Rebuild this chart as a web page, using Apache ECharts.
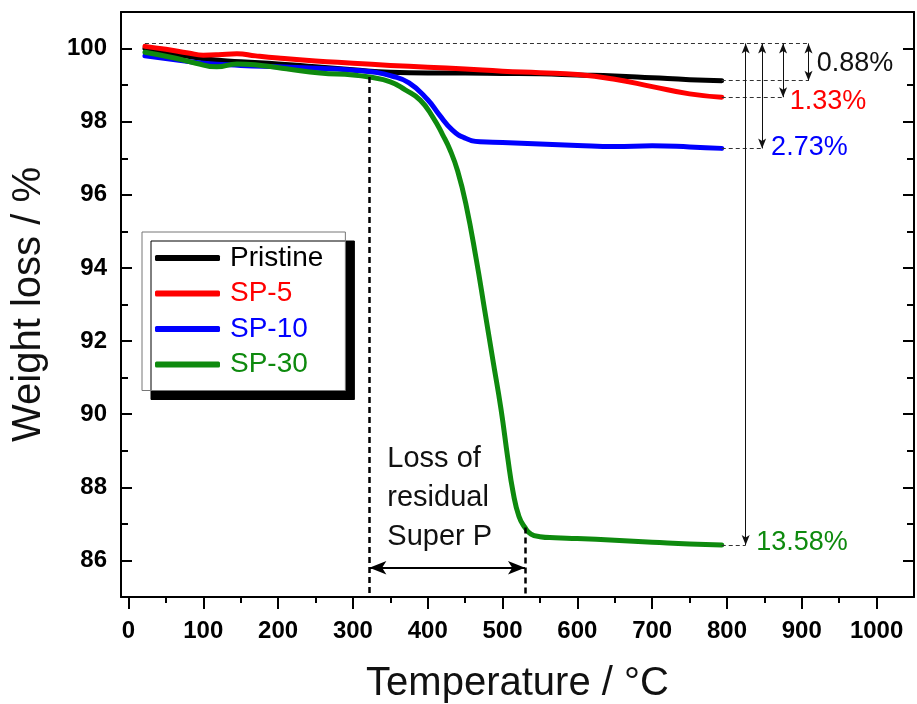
<!DOCTYPE html>
<html>
<head>
<meta charset="utf-8">
<script src="https://cdn.jsdelivr.net/npm/echarts@6/dist/echarts.min.js"></script>
<style>
  html, body { margin: 0; padding: 0; background: #fff; }
  #chart { width: 917px; height: 704px; }
</style>
</head>
<body>
<div id="chart"></div>
<script>
// TGA data (temperature in °C, weight in %)
var pristineT = [22, 60, 100, 150, 200, 250, 300, 350, 400, 450, 500, 550, 600, 650, 700, 750, 793];
var pristineW = [100.0, 99.86, 99.72, 99.64, 99.58, 99.5, 99.42, 99.35, 99.33, 99.33, 99.32, 99.31, 99.28, 99.25, 99.2, 99.15, 99.12];

var sp5T = [22, 50, 80, 100, 120, 145, 170, 200, 250, 300, 350, 400, 450, 500, 550, 600, 650, 700, 750, 793];
var sp5W = [100.06, 99.98, 99.88, 99.82, 99.83, 99.86, 99.8, 99.74, 99.66, 99.6, 99.54, 99.49, 99.44, 99.38, 99.34, 99.29, 99.16, 98.96, 98.76, 98.67];

var sp10T = [22, 60, 100, 150, 200, 250, 300, 330, 350, 375, 400, 415, 433, 450, 470, 500, 550, 600, 650, 700, 750, 793];
var sp10W = [99.8, 99.7, 99.6, 99.54, 99.5, 99.46, 99.41, 99.35, 99.26, 99.06, 98.6, 98.2, 97.77, 97.55, 97.45, 97.43, 97.39, 97.35, 97.32, 97.34, 97.31, 97.27];

var sp30T = [22, 60, 90, 118, 145, 180, 211, 256, 300, 322, 350, 370, 390, 407, 420, 430, 440, 451, 465, 476, 487, 498, 507, 514, 522, 530, 538, 550, 570, 600, 650, 700, 750, 793];
var sp30W = [99.9, 99.75, 99.6, 99.5, 99.58, 99.53, 99.45, 99.33, 99.28, 99.22, 99.09, 98.87, 98.59, 98.12, 97.64, 97.22, 96.65, 95.75, 94.22, 92.86, 91.49, 90.13, 88.8, 87.88, 87.2, 86.9, 86.72, 86.65, 86.62, 86.6, 86.55, 86.5, 86.45, 86.42];

var seriesNames = ['Pristine', 'SP-5', 'SP-10', 'SP-30'];
var seriesColors = ['#000000', '#ff0000', '#0000ff', '#0e8a0e'];

// annotations
var lossLabels = ['0.88%', '1.33%', '2.73%', '13.58%'];
var refTop = 100.14;              // starting weight line
var bracketT = [909, 875, 847, 825];  // where the loss brackets stand
var regionT = [322, 530];         // "Loss of residual Super P" window
var regionArrowW = 85.8;
var regionText = 'Loss of\nresidual\nSuper P';
var regionTextPos = [346, 87.7];

var xMajor = [0, 100, 200, 300, 400, 500, 600, 700, 800, 900, 1000];
var xMinor = [50, 150, 250, 350, 450, 550, 650, 750, 850, 950];
var yMajor = [86, 88, 90, 92, 94, 96, 98, 100];

function pairs(t, w) {
  var out = [];
  for (var i = 0; i < t.length; i++) out.push([t[i], w[i]]);
  return out;
}

var allT = [pristineT, sp5T, sp10T, sp30T];
var allW = [pristineW, sp5W, sp10W, sp30W];
var endW = allW.map(function (w) { return w[w.length - 1]; });
var endT = allT.map(function (t) { return t[t.length - 1]; });

var font = "'Liberation Sans', Arial, sans-serif";
var chart = echarts.init(document.getElementById('chart'));

var thinDash = { type: [4, 3], width: 1, color: '#333' };
var thinSolid = { type: 'solid', width: 1, color: '#111' };
var thickDash = { type: [6, 4], width: 2.5, color: '#000' };

var marks = [];
// top reference line
marks.push([{ coord: [allT[0][0], refTop], lineStyle: thinDash, symbol: 'none' },
            { coord: [bracketT[0], refTop], symbol: 'none' }]);
for (var i = 0; i < 4; i++) {
  // dashed leader from end of curve to bracket
  marks.push([{ coord: [endT[i], endW[i]], lineStyle: thinDash, symbol: 'none' },
              { coord: [bracketT[i], endW[i]], symbol: 'none' }]);
  // double arrow
  marks.push([{ coord: [bracketT[i], refTop], lineStyle: thinSolid, symbol: 'arrow', symbolSize: [6, 10] },
              { coord: [bracketT[i], endW[i]], symbol: 'arrow', symbolSize: [6, 10] }]);
}
// region guides
var g0 = sp30W[sp30T.indexOf(regionT[0])];
var g1 = sp30W[sp30T.indexOf(regionT[1])];
marks.push([{ coord: [regionT[0], g0], lineStyle: thickDash, symbol: 'none' }, { coord: [regionT[0], 85], symbol: 'none' }]);
marks.push([{ coord: [regionT[1], g1], lineStyle: thickDash, symbol: 'none' }, { coord: [regionT[1], 85], symbol: 'none' }]);
marks.push([{ coord: [regionT[0], regionArrowW], lineStyle: { type: 'solid', width: 2, color: '#000' }, symbol: 'arrow', symbolSize: [10, 17] },
            { coord: [regionT[1], regionArrowW], symbol: 'arrow', symbolSize: [10, 17] }]);

var notes = [
  { name: lossLabels[0], value: [bracketT[0] + 11, (refTop + endW[0]) / 2 - 0.04], label: { color: '#111' } },
  { name: lossLabels[1], value: [bracketT[1] + 9, endW[1] - 0.12], label: { color: seriesColors[1] } },
  { name: lossLabels[2], value: [bracketT[2] + 12, endW[2] + 0.02], label: { color: seriesColors[2] } },
  { name: lossLabels[3], value: [bracketT[3] + 14, endW[3] + 0.08], label: { color: seriesColors[3] } },
  { name: regionText, value: regionTextPos, label: { color: '#111', fontSize: 29, lineHeight: 39 } }
];

var lineSeries = [0, 2, 3, 1].map(function (k) {
  return {
    name: seriesNames[k],
    type: 'line',
    data: pairs(allT[k], allW[k]),
    showSymbol: false,
    smooth: 0.5,
    lineStyle: { width: 5, color: seriesColors[k], cap: 'round', join: 'round' },
    itemStyle: { color: seriesColors[k] },
    z: 3
  };
});

function axisBase(extra) {
  var base = {
    type: 'value',
    splitLine: { show: false },
    axisLine: { show: false, onZero: false, lineStyle: { color: '#000', width: 2 } },
    axisTick: { show: false },
    axisLabel: { show: false }
  };
  return Object.assign(base, extra);
}

var option = {
  animation: false,
  backgroundColor: '#fff',
  grid: { left: 121, right: 3, top: 12, bottom: 107, outerBoundsMode: 'none', containLabel: false },
  legend: {
    data: seriesNames.map(function (n, k) { return { name: n, textStyle: { color: seriesColors[k] } }; }),
    orient: 'vertical',
    left: 142,
    top: 232,
    icon: 'roundRect',
    itemWidth: 65,
    itemHeight: 6,
    itemGap: 5.5,
    padding: [11, 22, 11, 13],
    backgroundColor: '#fff',
    borderColor: '#777',
    borderWidth: 1,
    shadowColor: '#000',
    shadowBlur: 0,
    shadowOffsetX: 9,
    shadowOffsetY: 9,
    textStyle: { fontFamily: font, fontSize: 28, lineHeight: 30, padding: [0, 0, 0, 5] },
    z: 10
  },
  xAxis: [
    axisBase({
      min: -10, max: 1050, position: 'bottom',
      axisLine: { show: true, onZero: false, lineStyle: { color: '#000', width: 2 } },
      axisTick: { show: true, inside: false, length: 12, customValues: xMajor, lineStyle: { width: 2, color: '#000' } },
      axisLabel: {
        show: true, customValues: xMajor, margin: 22, color: '#000', fontFamily: font, fontWeight: 'bold', fontSize: 24,
        formatter: function (v) { return String(v); }
      },
      name: 'Temperature / °C',
      nameLocation: 'middle',
      nameGap: 67,
      nameTextStyle: { fontFamily: font, fontSize: 40, color: '#111' }
    }),
    axisBase({
      min: -10, max: 1050, position: 'bottom',
      axisTick: { show: true, inside: false, length: 6, customValues: xMinor, lineStyle: { width: 2, color: '#000' } }
    }),
    axisBase({
      min: -10, max: 1050, position: 'top',
      axisLine: { show: true, onZero: false, lineStyle: { color: '#000', width: 2 } }
    })
  ],
  yAxis: [
    axisBase({
      min: 85, max: 101, interval: 1, position: 'left',
      axisLine: { show: true, onZero: false, lineStyle: { color: '#000', width: 2 } },
      axisTick: { show: true, inside: true, length: 7, lineStyle: { width: 2, color: '#000' } },
      axisLabel: {
        show: true, margin: 14, color: '#000', fontFamily: font, fontWeight: 'bold', fontSize: 24,
        formatter: function (v) { return v % 2 === 0 ? String(v) : ''; }
      },
      name: 'Weight loss / %',
      nameLocation: 'middle',
      nameGap: 72,
      nameTextStyle: { fontFamily: font, fontSize: 40, color: '#111' }
    }),
    axisBase({
      min: 85, max: 101, position: 'left',
      axisTick: { show: true, inside: true, length: 11, customValues: yMajor, lineStyle: { width: 2, color: '#000' } }
    }),
    axisBase({
      min: 85, max: 101, interval: 1, position: 'right',
      axisLine: { show: true, onZero: false, lineStyle: { color: '#000', width: 2 } },
      axisTick: { show: true, inside: true, length: 7, lineStyle: { width: 2, color: '#000' } }
    }),
    axisBase({
      min: 85, max: 101, position: 'right',
      axisTick: { show: true, inside: true, length: 11, customValues: yMajor, lineStyle: { width: 2, color: '#000' } }
    })
  ],
  series: lineSeries.concat([{
    name: 'notes',
    type: 'scatter',
    symbolSize: 0,
    data: notes,
    silent: true,
    itemStyle: { opacity: 1 },
    label: {
      show: true,
      position: 'right',
      distance: 0,
      formatter: '{b}',
      fontFamily: font,
      fontSize: 27,
      opacity: 1
    },
    markLine: {
      silent: true,
      symbol: ['none', 'none'],
      label: { show: false },
      data: marks
    },
    z: 2
  }])
};

chart.setOption(option);
</script>
</body>
</html>
